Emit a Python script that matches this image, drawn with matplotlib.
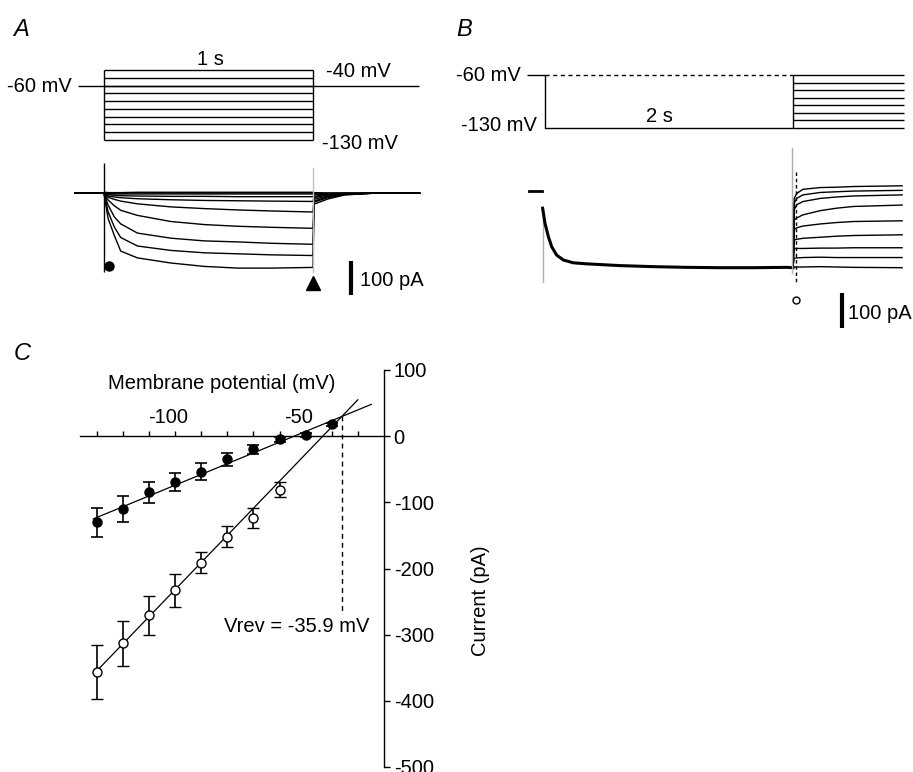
import matplotlib
matplotlib.use("Agg")
import matplotlib.pyplot as plt
import matplotlib.transforms as mtransforms

plt.rcParams["font.family"] = ["Liberation Sans", "DejaVu Sans"]
plt.rcParams["axes.unicode_minus"] = False

# ---- A: 1 s steps from -60 mV, -130 .. -40 mV --------------------------------
A_HOLD = -60
A_STEPS = [-130, -120, -110, -100, -90, -80, -70, -60, -50, -40]
A_T = [-0.14, 0.0, 0.005, 0.02, 0.05, 0.08, 0.16, 0.32, 0.48, 0.64, 0.8, 1.0,
       1.005, 1.07, 1.15, 1.28, 1.51]
A_I = [  # pA, one row per step (same order as A_STEPS)
    [0, 0, -20, -75, -125, -170, -190, -205, -215, -220, -220, -218, -32, -17, -5, 0, 0],
    [0, 0, -15, -55, -100, -130, -155, -168, -175, -178, -181, -183, -26, -13, -4, 0, 0],
    [0, 0, -10, -35, -70, -90, -117, -132, -140, -143, -147, -150, -23, -10, -3, 0, 0],
    [0, 0, -7, -20, -37, -50, -65, -83, -92, -97, -100, -103, -18, -7, -2, 0, 0],
    [0, 0, -5, -12, -18, -23, -31, -40, -45, -49, -52, -55, -13, -5, -2, 0, 0],
    [0, 0, -3, -8, -11, -13, -16, -19, -21, -22, -23, -24, -9, -3, -1, 0, 0],
    [0, 0, -2, -4, -6, -7, -8, -9, -9, -10, -10, -10, -5, -2, -1, 0, 0],
    [0, 0, -1, -2, -2, -2, -2, -2, -2, -2, -2, -2, -2, -1, 0, 0, 0],
    [0, 0, 1, 0, 0, 0, 1, 1, 1, 1, 1, 1, 0, 0, 0, 0, 0],
    [0, 0, 3, 2, 2, 2, 3, 3, 3, 3, 3, 3, 2, 1, 1, 0, 0],
]

# ---- B: 2 s at -130 mV, then steps -130 .. -60 mV ------------------------------
B_HOLD, B_COND = -60, -130
B_STEPS = [-130, -120, -110, -100, -90, -80, -70, -60]
B_T_MAIN = [-0.019, 0.0, 0.027, 0.054, 0.094, 0.148, 0.228, 0.336, 0.605,
            0.874, 1.143, 1.41, 1.68, 1.95, 2.0]
B_I_MAIN = [-50, -93, -131, -160, -184, -198, -206, -209, -214, -217, -219,
            -220, -220, -219, -220]
B_T_TAIL = [2.0, 2.01, 2.03, 2.08, 2.22, 2.35, 2.49, 2.88]
B_I_TAIL = [
    [-220, -22, -8, 4, 9, 10, 12, 14],
    [-220, -36, -22, -12, -5, -3, -1, 1],
    [-220, -55, -40, -31, -22, -18, -15, -12],
    [-220, -84, -78, -69, -57, -50, -45, -41],
    [-220, -110, -106, -101, -95, -91, -88, -86],
    [-220, -141, -139, -136, -133, -130, -128, -126],
    [-220, -165, -165, -165, -164, -164, -163, -163],
    [-220, -193, -192, -191, -190, -191, -191, -191],
    [-220, -218, -218, -218, -217, -218, -219, -220],
]

# ---- C: I-V relations ---------------------------------------------------------
V_FILLED = [-130, -120, -110, -100, -90, -80, -70, -60, -50, -40]
I_FILLED = [-130, -110, -85, -69, -54, -35, -20, -5, 2, 18]
E_FILLED = [22, 20, 16, 14, 13, 10, 7, 4, 3, 2]
V_OPEN = [-130, -120, -110, -100, -90, -80, -70, -60]
I_OPEN = [-356, -313, -271, -233, -191, -152, -124, -81]
E_OPEN = [41, 34, 30, 25, 16, 16, 15, 11]
FIT_FILLED_V, FIT_FILLED_I = [-131.3, -24.9], [-125, 48]
FIT_OPEN_V, FIT_OPEN_I = [-131, -30], [-359, 55]
VREV, VREV_I = -35.9, [31, -267]

W, H = 913, 772
fig = plt.figure(figsize=(W / 100, H / 100), dpi=100)


def box(x0, y0, x1, y1):
    # axes placed by its pixel box in the 913x772 figure
    return fig.add_axes([x0 / W, 1 - y1 / H, (x1 - x0) / W, (y1 - y0) / H])


FS = 14.5
lk = dict(color="k", lw=1.0, solid_capstyle="butt")

# ---- panel A protocol ----
ax = box(0, 40, 450, 155)
ax.set_xlim(-0.4976, 1.6555); ax.set_ylim(-149.3, -1.43); ax.axis("off")
ax.plot([-0.124, 1.507], [A_HOLD, A_HOLD], **lk)
for v in A_STEPS:
    ax.plot([0, 1], [v, v], **lk)
for t in (0, 1):
    ax.plot([t, t], [min(A_STEPS), max(A_STEPS)], **lk)
ax.text(-0.153, -61, "-60 mV", ha="right", va="center", fontsize=FS)
ax.text(0.507, -27, "1 s", ha="center", va="center", fontsize=FS)
ax.text(1.062, -42, "-40 mV", ha="left", va="center", fontsize=FS)
ax.text(1.045, -134, "-130 mV", ha="left", va="center", fontsize=FS)

# ---- panel A currents ----
ax = box(0, 155, 450, 305)
ax.set_xlim(-0.4976, 1.6555); ax.set_ylim(-328.5, 112.6); ax.axis("off")
for row in A_I:
    ax.plot(A_T, row, color="k", lw=1.0)
ax.plot([0, 0], [89, -231], **lk)
ax.plot([1, 1], [73, -231], color="#c0c0c0", lw=1.0)
ax.plot([0.024], [-214], "o", color="k", ms=6.5)
ax.plot([1.0], [-263], "^", color="k", ms=10)
ax.plot([1.18, 1.18], [-200, -300], color="k", lw=3, solid_capstyle="butt")
ax.text(1.225, -256, "100 pA", ha="left", va="center", fontsize=FS)

# ---- panel B protocol ----
ax = box(440, 40, 913, 140)
ax.set_xlim(-0.8468, 2.968); ax.set_ylim(-145.9, -13.77); ax.axis("off")
ax.plot([-0.145, 0, 0, 2], [B_HOLD, B_HOLD, B_COND, B_COND], **lk)
ax.plot([0, 2], [B_HOLD, B_HOLD], color="k", lw=1.0, ls=(0, (3, 2.5)))
ax.plot([2, 2], [min(B_STEPS), max(B_STEPS)], **lk)
for v in B_STEPS:
    ax.plot([2, 2.895], [v, v], **lk)
ax.text(-0.194, -61.3, "-60 mV", ha="right", va="center", fontsize=FS)
ax.text(-0.065, -127.4, "-130 mV", ha="right", va="center", fontsize=FS)
ax.text(0.927, -115.5, "2 s", ha="center", va="center", fontsize=FS)

# ---- panel B currents ----
ax = box(440, 140, 913, 340)
ax.set_xlim(-0.8468, 2.968); ax.set_ylim(-426.6, 144.9); ax.axis("off")
ax.plot([-0.13, -0.024], [0, 0], color="k", lw=2)
ax.plot([-0.019, -0.019], [-50, -260], color="#b0b0b0", lw=1.0)
ax.plot(B_T_MAIN, B_I_MAIN, color="k", lw=2.2)
for row in B_I_TAIL:
    ax.plot(B_T_TAIL, row, color="k", lw=1.0)
ax.plot([1.99, 1.99], [121, -236], color="#b0b0b0", lw=1.0)
ax.plot([2.024, 2.024], [54, -260], color="k", lw=1.0, ls=(0, (2.5, 2)))
ax.plot([2.024], [-312], "o", mfc="white", mec="k", mew=1.0, ms=5)
ax.plot([2.395, 2.395], [-292, -392], color="k", lw=3, solid_capstyle="butt")
ax.text(2.44, -350, "100 pA", ha="left", va="center", fontsize=FS)

# ---- panel C: I-V ----
ax = box(80, 370, 384, 767)
ax.set_xlim(-136.4, -20); ax.set_ylim(-500, 100)
for s in ("left", "bottom"):
    ax.spines[s].set_visible(False)
ax.spines["top"].set_position(("data", 0))
ax.spines["top"].set_linewidth(1.0)
ax.spines["right"].set_linewidth(1.0)
ax.xaxis.tick_top(); ax.yaxis.tick_right()
ax.set_xticks([-100, -50])
ax.set_xticks(range(-130, -20, 10), minor=True)
ax.set_yticks(range(-500, 101, 100))
ax.tick_params(axis="x", which="both", direction="out", length=3.5, width=1.0,
               pad=3, labelsize=FS)
ax.tick_params(axis="y", direction="out", length=4, width=1.0, pad=3, labelsize=FS)
shift = mtransforms.ScaledTranslation(-5 / 72, 0, fig.dpi_scale_trans)
for lab in ax.get_xticklabels():
    lab.set_transform(lab.get_transform() + shift)

ax.plot(FIT_FILLED_V, FIT_FILLED_I, color="k", lw=0.9, clip_on=False)
ax.plot(FIT_OPEN_V, FIT_OPEN_I, color="k", lw=0.9, clip_on=False)
ax.plot([VREV, VREV], VREV_I, color="k", lw=1.0, ls=(0, (3.5, 3)))
ax.errorbar(V_FILLED, I_FILLED, yerr=E_FILLED, fmt="o", color="k", mfc="k",
            mec="k", ms=6.5, capsize=4.5, elinewidth=1.2, capthick=1.2,
            clip_on=False, zorder=3)
ax.errorbar(V_OPEN, I_OPEN, yerr=E_OPEN, fmt="o", color="k", mfc="white",
            mec="k", mew=1.0, ms=6.5, capsize=4.5, elinewidth=1.2, capthick=1.2,
            clip_on=False, zorder=3)
ax.text(-53.6, -288, "Vrev = -35.9 mV", ha="center", va="center", fontsize=FS)
ax.text(0.466, 0.967, "Membrane potential (mV)", transform=ax.transAxes,
        ha="center", va="center", fontsize=FS)
ax.text(1.316, 0.42, "Current (pA)", transform=ax.transAxes, rotation=90,
        ha="center", va="center", fontsize=FS)

# panel letters
for x, y, s in [(21, 29, "A"), (464, 29, "B"), (22, 353, "C")]:
    fig.text(x / W, 1 - y / H, s, ha="center", va="center", fontsize=17,
             style="italic")

fig.savefig("out.png", dpi=100)
